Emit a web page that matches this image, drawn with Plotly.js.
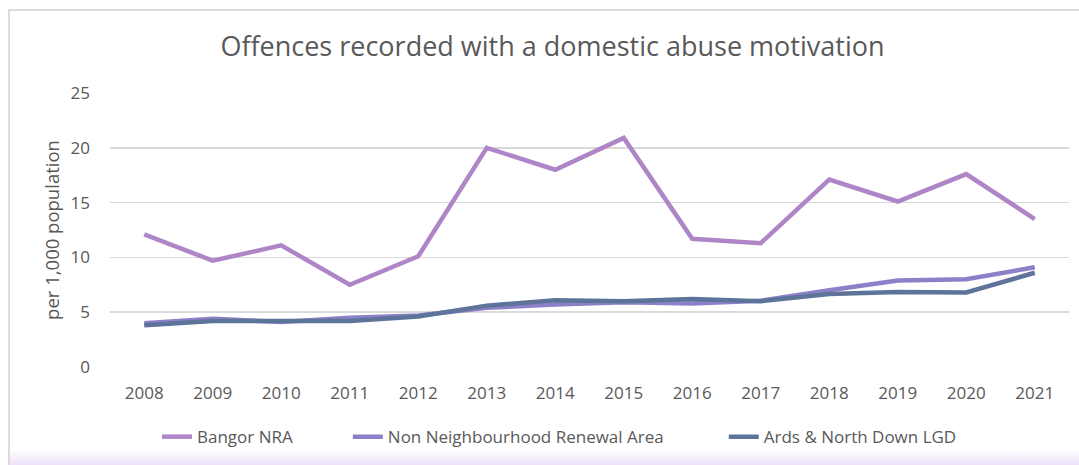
<!DOCTYPE html>
<html>
<head>
<meta charset="utf-8">
<script src="https://cdn.plot.ly/plotly-3.0.1.min.js"></script>
<style>
html, body { margin: 0; padding: 0; background: #ffffff; }
#wrap { position: relative; width: 1079px; height: 465px; overflow: hidden; background: #fff; }
#frame { position: absolute; left: 8px; top: 9px; width: 1100px; height: 470px; border-left: 2px solid #dcdcdc; border-top: 2px solid #dcdcdc; }
#fade { position: absolute; left: 10px; top: 450px; width: 1079px; height: 15px; background: linear-gradient(to bottom, rgba(245,235,250,0), rgba(238,225,248,1)); }
#chart { position: absolute; left: 0; top: 0; width: 1079px; height: 465px; }
</style>
</head>
<body>
<div id="wrap">
  <div id="frame"></div>
  <div id="fade"></div>
  <div id="chart"></div>
</div>
<script>
const years = ['2008','2009','2010','2011','2012','2013','2014','2015','2016','2017','2018','2019','2020','2021'];
const bangorNRA = [12.1, 9.7, 11.1, 7.5, 10.1, 20.0, 18.0, 20.9, 11.7, 11.3, 17.1, 15.1, 17.6, 13.5];
const nonNRA    = [4.0, 4.4, 4.1, 4.5, 4.7, 5.4, 5.7, 5.9, 5.8, 6.05, 7.0, 7.9, 8.0, 9.1];
const ardsLGD    = [3.8, 4.2, 4.2, 4.2, 4.6, 5.6, 6.1, 6.0, 6.2, 6.0, 6.65, 6.85, 6.8, 8.6];
const seriesNames = ['Bangor NRA', 'Non Neighbourhood Renewal Area', 'Ards & North Down LGD'];
const seriesColors = ['#AE86C8', '#8C80C9', '#5D7399'];
const legendIds = ['legend', 'legend2', 'legend3'];

const font = 'Open Sans, Noto Sans, sans-serif';
const traces = [bangorNRA, nonNRA, ardsLGD].map((vals, i) => ({
  x: years, y: vals, type: 'scatter', mode: 'lines', name: seriesNames[i],
  legend: legendIds[i],
  line: { color: seriesColors[i], width: 4.5 }
}));

const legendBase = (x) => ({
  orientation: 'h', x: x, xanchor: 'left', y: 0.06, yref: 'container', yanchor: 'middle',
  font: { family: font, size: 17, color: '#595959' }, bgcolor: 'rgba(0,0,0,0)'
});

const layout = {
  width: 1079, height: 465,
  paper_bgcolor: 'rgba(0,0,0,0)', plot_bgcolor: 'rgba(0,0,0,0)',
  margin: { l: 110, r: 10, t: 93, b: 98 },
  title: { text: 'Offences recorded with a domestic abuse motivation', x: 0.512, xanchor: 'center', y: 0.1, yref: 'container', yanchor: 'middle',
           font: { family: font, size: 27, color: '#595959' } },
  xaxis: { type: 'category', range: [-0.5, 13.5], showgrid: false, zeroline: false, showline: false, ticks: '',
           ticklabelstandoff: 14,
           tickfont: { family: font, size: 17, color: '#595959' }, fixedrange: true },
  yaxis: { range: [0, 25], dtick: 5, showgrid: true, gridcolor: '#d9d9d9', gridwidth: 1.5, zeroline: false, showline: false,
           ticks: '', ticklabelstandoff: 19,
           tickfont: { family: font, size: 17, color: '#595959' },
           title: { text: 'per 1,000 population', standoff: 6, font: { family: font, size: 18.5, color: '#595959' } }, fixedrange: true },
  showlegend: true,
  legend: legendBase(0.049),
  legend2: legendBase(0.248),
  legend3: legendBase(0.640),
  hovermode: false
};
layout.title.y = 1 - 47 / 465;
Plotly.newPlot('chart', traces, layout, { displayModeBar: false, staticPlot: true });
</script>
</body>
</html>
